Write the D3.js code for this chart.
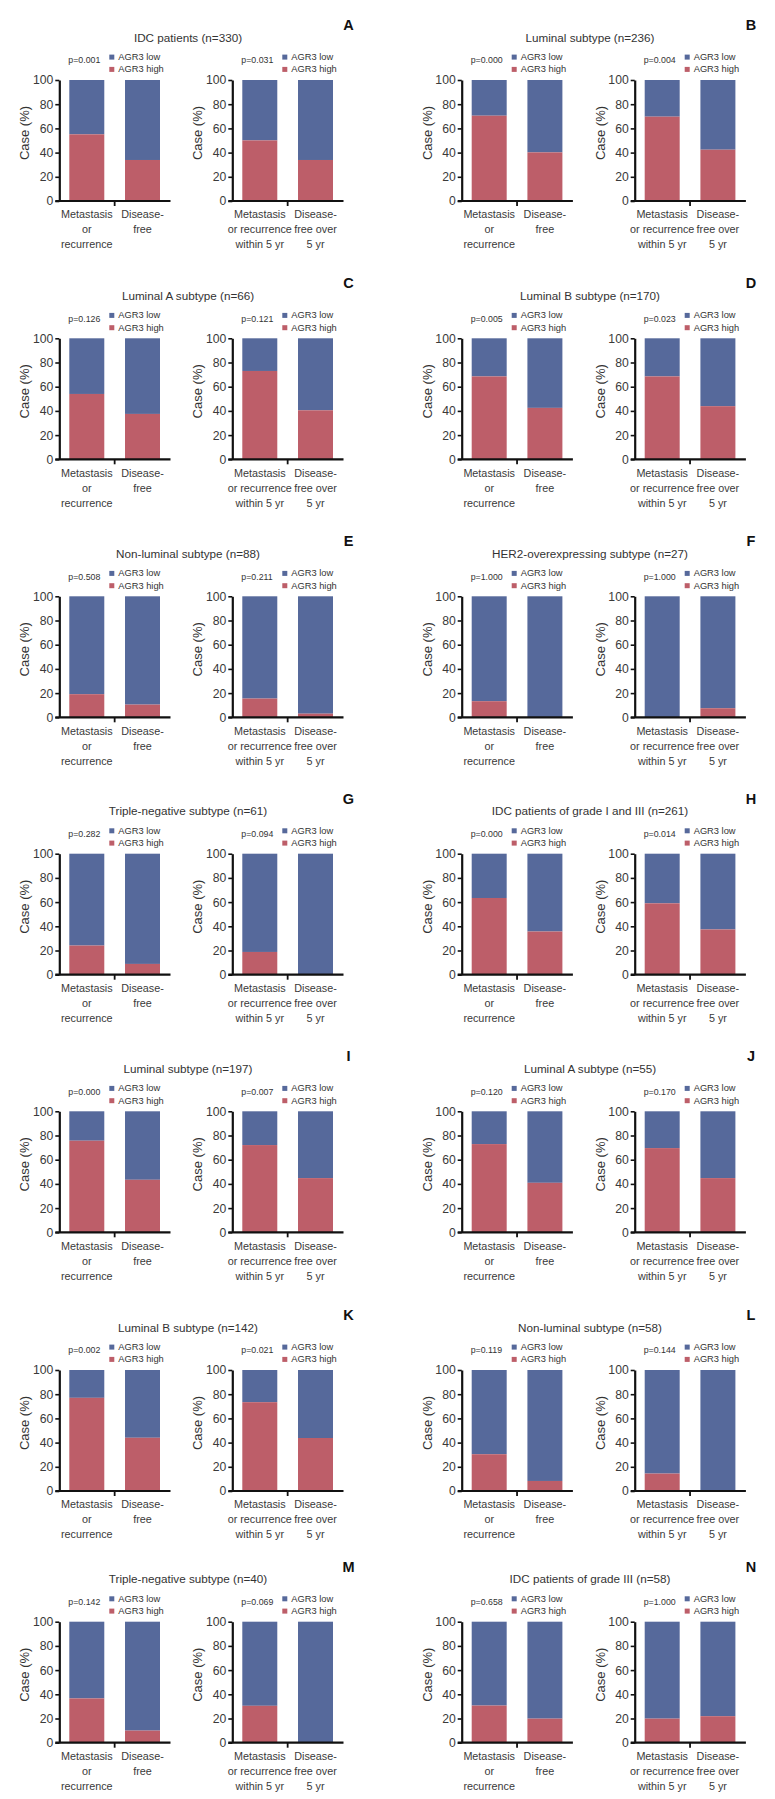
<!DOCTYPE html>
<html><head><meta charset="utf-8">
<script src="https://cdn.jsdelivr.net/npm/d3@7"></script>
<style>
body{margin:0;background:#fff}
svg{display:block}
text{font-family:"Liberation Sans",Arial,Helvetica,sans-serif;fill:#333}
</style>
</head><body>
<svg id="chart" width="775" height="1799"></svg>
<script>
// ---------- DATA ----------
const panelLetters = ["A","B","C","D","E","F","G","H","I","J","K","L","M","N"];
const panelTitles = [
  "IDC patients (n=330)", "Luminal subtype (n=236)",
  "Luminal A subtype (n=66)", "Luminal B subtype (n=170)",
  "Non-luminal subtype (n=88)", "HER2-overexpressing subtype (n=27)",
  "Triple-negative subtype (n=61)", "IDC patients of grade I and III (n=261)",
  "Luminal subtype (n=197)", "Luminal A subtype (n=55)",
  "Luminal B subtype (n=142)", "Non-luminal subtype (n=58)",
  "Triple-negative subtype (n=40)", "IDC patients of grade III (n=58)"
];
const categories = ["Metastasis or recurrence", "Disease-free"];
const categoryLabels1 = [["Metastasis","or","recurrence"],["Disease-","free"]];
const categoryLabels2 = [["Metastasis","or recurrence","within 5 yr"],["Disease-","free over","5 yr"]];
const seriesNames = ["AGR3 low","AGR3 high"];
const yTicks = [0,20,40,60,80,100];
// p-values: left chart (any time) and right chart (5 yr)
const pValues1 = ["0.001","0.000","0.126","0.005","0.508","1.000","0.282","0.000","0.000","0.120","0.002","0.119","0.142","0.658"];
const pValues2 = ["0.031","0.004","0.121","0.023","0.211","1.000","0.094","0.014","0.007","0.170","0.021","0.144","0.069","1.000"];
// % AGR3 high in [metastasis/recurrence, disease-free]; AGR3 low = 100 - high
const high1 = [[55.1,33.9],[70.5,40.2],[54.0,37.5],[68.5,42.5],[19.1,10.5],[13.3,0],[24.1,8.9],
               [63.4,35.7],[75.7,43.4],[72.9,40.9],[77.0,44.0],[30.4,8.3],[36.6,10.0],[30.7,19.9]];
const high2 = [[50.1,33.9],[69.7,42.4],[73.0,40.5],[68.5,43.9],[15.5,3.0],[0,7.5],[18.8,0],
               [59.0,37.4],[72.1,44.8],[69.6,44.8],[73.4,43.8],[14.4,0],[30.5,0],[19.9,21.9]];

// ---------- LAYOUT / STYLE ----------
const colorLow = "#56699b", colorHigh = "#bd5e69";
const rowTops = [80, 338.3, 596.3, 853.7, 1111.3, 1370, 1621.7];
const colBar0 = [69.3, 471.7];
const colTitleX = [188, 590];
const colLetterX = [348.5, 751];
const chartShift = 173;
const plotH = 121;
const bandSpan = 90.7;

const svg = d3.select("#chart");

function drawChart(g, top, b0, highVals, pval, labels) {
  const y = d3.scaleLinear().domain([0,100]).range([top+plotH, top]);
  const x = d3.scaleBand().domain(categories).range([b0, b0+bandSpan]).paddingInner(0.372).paddingOuter(0);
  const ax = b0 - 10;
  const bw = x.bandwidth();
  const rows = categories.map((c,i)=>({c, high: highVals[i]}));

  // stacked bars
  g.selectAll(null).data(rows).enter().append("rect")
    .attr("x", d=>x(d.c)).attr("width", bw)
    .attr("y", d=>y(100)).attr("height", d=>y(d.high)-y(100))
    .attr("fill", colorLow);
  g.selectAll(null).data(rows).enter().append("rect")
    .attr("x", d=>x(d.c)).attr("width", bw)
    .attr("y", d=>y(d.high)).attr("height", d=>y(0)-y(d.high))
    .attr("fill", colorHigh);

  // y axis
  const yAxis = g.append("g").attr("transform", `translate(${ax},0)`)
    .call(d3.axisLeft(y).tickValues(yTicks).tickSize(4).tickSizeOuter(0).tickPadding(2));
  yAxis.select(".domain").attr("stroke","#111").attr("stroke-width",2.2);
  yAxis.selectAll(".tick line").attr("stroke","#111").attr("stroke-width",1.6);
  yAxis.selectAll(".tick text").attr("font-size",12.2).style("fill","#3a3a3a")
    .attr("font-family","'Liberation Sans',Arial,sans-serif");

  // x axis baseline
  const r = x.range();
  g.append("line").attr("x1", r[0]-14).attr("x2", r[1]+10.5)
    .attr("y1", y(0)).attr("y2", y(0)).attr("stroke","#111").attr("stroke-width",2.2);
  const mid = (x(categories[0]) + bw + x(categories[1]))/2;
  g.append("line").attr("x1", mid).attr("x2", mid).attr("y1", y(0)).attr("y2", y(0)+5)
    .attr("stroke","#111").attr("stroke-width",1.8);

  // category labels
  categories.forEach((c,i)=>{
    const t = g.append("text").attr("text-anchor","middle").attr("font-size",10.8).style("fill","#3a3a3a");
    labels[i].forEach((line,k)=>{
      t.append("tspan").attr("x", x(c)+bw/2).attr("y", y(0)+17.3+15*k).text(line);
    });
  });

  // y label
  g.append("text").attr("transform", `translate(${ax-30},${top+53}) rotate(-90)`)
    .attr("text-anchor","middle").attr("font-size",13).style("fill","#333").text("Case (%)");

  // p-value
  g.append("text").attr("x", b0-1).attr("y", top-16.7).attr("font-size",8.8).style("fill","#333").text("p=" + pval);

  // legend
  const legendY = [top-20, top-7.7];
  seriesNames.forEach((s,k)=>{
    g.append("rect").attr("x", b0+40).attr("y", legendY[k]-5.4).attr("width",5).attr("height",5)
      .attr("fill", k===0?colorLow:colorHigh);
    g.append("text").attr("x", b0+49).attr("y", legendY[k]).attr("font-size",9.3).style("fill","#333").text(s);
  });
}

panelTitles.forEach((title,i)=>{
  const row = Math.floor(i/2), col = i%2;
  const top = rowTops[row];
  const g = svg.append("g");
  g.append("text").attr("x", colLetterX[col]).attr("y", top-50).attr("text-anchor","middle")
    .attr("font-size",14.5).attr("font-weight","bold").style("fill","#111").text(panelLetters[i]);
  g.append("text").attr("x", colTitleX[col]).attr("y", top-38.3).attr("text-anchor","middle")
    .attr("font-size",11.7).style("fill","#333").text(title);
  drawChart(g.append("g"), top, colBar0[col], high1[i], pValues1[i], categoryLabels1);
  drawChart(g.append("g"), top, colBar0[col]+chartShift, high2[i], pValues2[i], categoryLabels2);
});
</script>
</body></html>
